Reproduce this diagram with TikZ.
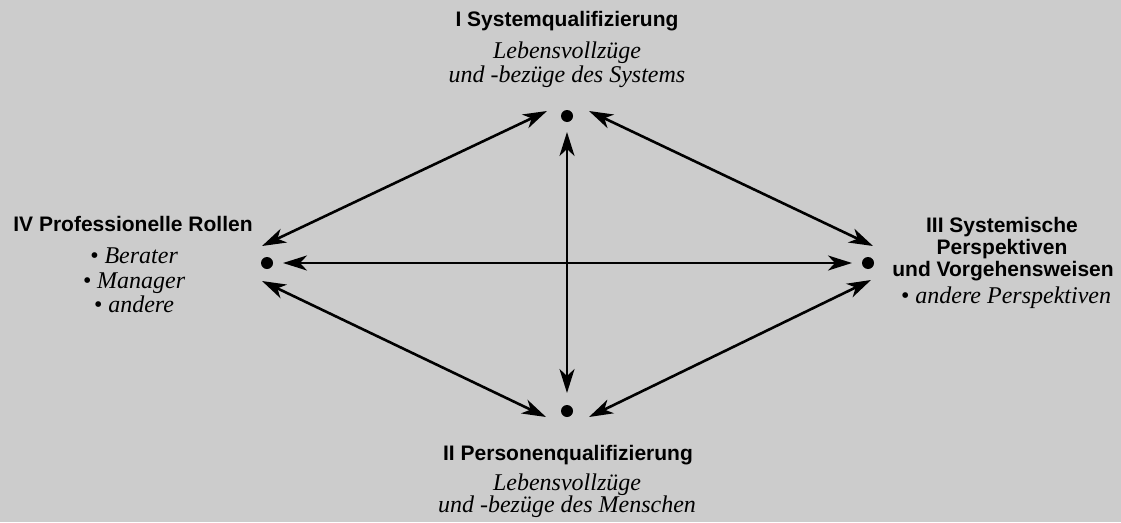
\documentclass[tikz,border=0pt]{standalone}
\usepackage{fontspec}
\setmainfont{Liberation Serif}
\setsansfont{Liberation Sans}
\usetikzlibrary{arrows.meta,calc}
\definecolor{bg}{HTML}{CCCCCC}
\tikzset{
  head/.style={anchor=base,inner sep=0pt,font=\sffamily\bfseries\fontsize{21}{22}\selectfont},
  sub/.style={anchor=base,inner sep=0pt,font=\itshape\fontsize{24}{26}\selectfont},
  pt/.style={circle,fill=black,inner sep=0pt,minimum size=12pt},
  tip/.tip={Stealth[length=24pt,width=15pt,inset=7pt]},
  link/.style={line width=2.6pt,tip-tip}
}
\begin{document}
\begin{tikzpicture}[x=1pt,y=-1pt]
\fill[bg] (0,0) rectangle (1121,522);
\useasboundingbox (0,0) rectangle (1121,522);
% dots
\node[pt] (I) at (567,116) {};
\node[pt] (II) at (567,411) {};
\node[pt] (III) at (868,263) {};
\node[pt] (IV) at (267,263) {};
% connector ends
\coordinate (Itl) at ($(I)+(-20,-5)$);
\coordinate (Itr) at ($(I)+(22,-5)$);
\coordinate (Ib) at ($(I)+(0,16)$);
\coordinate (IIbl) at ($(II)+(-21,6)$);
\coordinate (IIbr) at ($(II)+(22,6)$);
\coordinate (IIt) at ($(II)+(0,-18)$);
\coordinate (IVt) at ($(IV)+(-5,-17)$);
\coordinate (IVb) at ($(IV)+(-5,18)$);
\coordinate (IVr) at ($(IV)+(16,0)$);
\coordinate (IIIt) at ($(III)+(5,-17)$);
\coordinate (IIIb) at ($(III)+(3,17)$);
\coordinate (IIIl) at ($(III)+(-16,0)$);
% connectors
\draw[link] (Itl) -- (IVt);
\draw[link] (Itr) -- (IIIt);
\draw[link] (IVb) -- (IIbl);
\draw[link] (IIIb) -- (IIbr);
\draw[link] (IVr) -- (IIIl);
\draw[link] (Ib) -- (IIt);
% labels top
\node[head] (t1) at (567,26) {I Systemqualifizierung};
\node[sub] (t2) at (567,58) {Lebensvollzüge};
\node[sub] (t3) at (567,82) {und -bezüge des Systems};
% labels left
\node[head] (l1) at (133,231) {IV Professionelle Rollen};
\node[sub] (l2) at (134,263) {• Berater};
\node[sub] (l3) at (134,288) {• Manager};
\node[sub] (l4) at (134,312) {• andere};
% labels right
\node[head] (r1) at (1002,232) {III Systemische};
\node[head] (r2) at (1002,254) {Perspektiven};
\node[head] (r3) at (1003,276) {und Vorgehensweisen};
\node[sub] (r4) at (1006,303) {• andere Perspektiven};
% labels bottom
\node[head] (b1) at (568,460) {II Personenqualifizierung};
\node[sub] (b2) at (567,490) {Lebensvollzüge};
\node[sub] (b3) at (567,512) {und -bezüge des Menschen};
\end{tikzpicture}
\end{document}
